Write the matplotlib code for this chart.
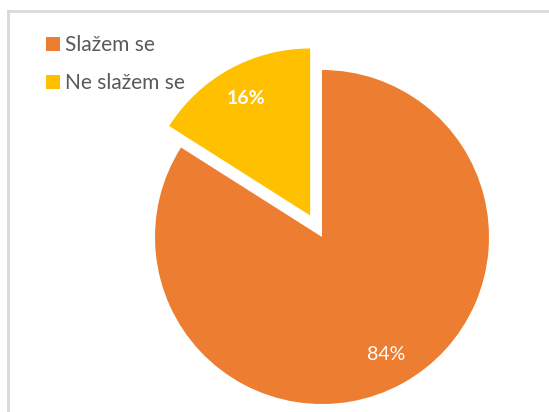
import matplotlib.pyplot as plt
from matplotlib.lines import Line2D

# data
labels = ["Slažem se", "Ne slažem se"]
values = [84, 16]
colors = ["#ED7D31", "#FFC000"]
explode = [0, 0.147]

plt.rcParams['font.family'] = ['Lato', 'DejaVu Sans']

W, H = 549, 412
R = 167
fig = plt.figure(figsize=(W / 100, H / 100), dpi=100)
ax = fig.add_axes([0, 0, 1, 1])

# explode offsets are in data units, so scale by radius
wedges, texts, autotexts = ax.pie(values, colors=colors, explode=[e * R for e in explode],
                                  startangle=90, counterclock=False,
                                  center=(322, H - 237), radius=R,
                                  autopct='%1.0f%%', pctdistance=0.8,
                                  textprops=dict(color='white', fontsize=14))
autotexts[1].set_fontweight('bold')

ax.set_xlim(0, W)
ax.set_ylim(0, H)
ax.set_aspect('equal')
ax.axis('off')

# legend
leg = ax.legend(wedges, labels, loc='upper left', bbox_to_anchor=(38 / W, 1 - 27 / H),
                frameon=False, fontsize=15, handlelength=0.65, handleheight=0.65,
                handletextpad=0.25, labelspacing=0.85, labelcolor='#595959',
                borderaxespad=0)

# chart border (partly visible)
fig.add_artist(Line2D([7.5 / W, 7.5 / W], [0, 1 - 11 / H], color='#d9d9d9', lw=2,
                      transform=fig.transFigure))
fig.add_artist(Line2D([7.5 / W, 1], [1 - 11 / H, 1 - 11 / H], color='#d9d9d9', lw=2,
                      transform=fig.transFigure))

fig.savefig("out.png", dpi=100)
